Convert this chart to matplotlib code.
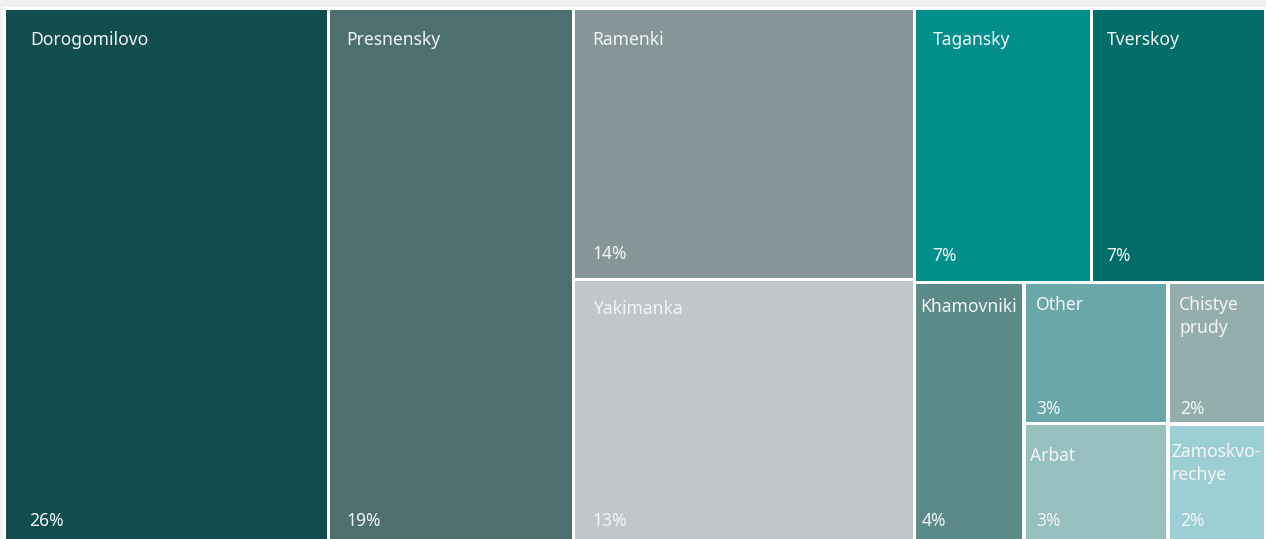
import matplotlib
matplotlib.use("Agg")
import matplotlib.pyplot as plt
from matplotlib.patches import Rectangle

# Districts, share of total.
names = ["Dorogomilovo", "Presnensky", "Ramenki", "Yakimanka", "Tagansky",
         "Tverskoy", "Khamovniki", "Other", "Chistye\nprudy", "Arbat",
         "Zamoskvo-\nrechye"]
values = [25.6, 19.35, 13.7, 13.2, 7.2, 7.1, 4.2, 3.0, 2.05, 2.5, 1.7]

colors = ["#124d4e", "#4e6f6f", "#869597", "#c2c6c8", "#028f8c", "#026d69",
          "#5b8a89", "#6aa7a8", "#94aead", "#97bfbf", "#9ccfd3"]

# How the tiles nest: 'h' = side by side, 'v' = stacked.
layout = ("h", [0, 1, ("v", [2, 3]),
                ("v", [("h", [4, 5]),
                       ("h", [6, ("v", [7, 9]), ("v", [8, 10])])])])

# Label padding inside each tile, in pixels.
name_dx = [24, 16, 17, 17.5, 16.5, 13.5, 4, 10, 9.5, 4.5, 2]
name_dy = [35.5, 35.5, 35.5, 33, 35.5, 35.5, 28, 25.5, 25.5, 36, 31.5]
pct_dx = [23.5, 16.5, 17.5, 17.5, 16.5, 13.5, 5, 10, 10, 10, 10]
pct_dy = [13, 13, 19, 13, 20, 20, 13, 8, 8, 13, 13]

W, H = 1266, 539
gap = 1.75
line_h = 23
text_color = "#f2f5f5"
font_size = 12.6

plt.rcParams["font.family"] = ["Noto Sans", "DejaVu Sans"]

def node_value(node):
    if isinstance(node, int):
        return values[node]
    return sum(node_value(k) for k in node[1])

rects = {}

def split(node, x0, y0, x1, y1):
    if isinstance(node, int):
        rects[node] = (x0, y0, x1, y1)
        return
    direction, kids = node
    total = node_value(node)
    pos = x0 if direction == "h" else y0
    for k in kids:
        frac = node_value(k) / total
        if direction == "h":
            step = frac * (x1 - x0)
            split(k, pos, y0, pos + step, y1)
        else:
            step = frac * (y1 - y0)
            split(k, x0, pos, x1, pos + step)
        pos += step

fig = plt.figure(figsize=(W / 100, H / 100), dpi=100, facecolor="white")

# light page band along the top and left edge
fig.add_artist(Rectangle((0, 1 - 7 / H), 1, 7 / H, transform=fig.transFigure,
                         facecolor="#eff2f0", edgecolor="none"))
fig.add_artist(Rectangle((0, 0), 3 / W, 1, transform=fig.transFigure,
                         facecolor="#eff2f0", edgecolor="none"))

ax_w, ax_h = 1262, 533
ax = fig.add_axes([4 / W, -2 / H, ax_w / W, ax_h / H])
ax.set_xlim(0, ax_w)
ax.set_ylim(ax_h, 0)
ax.axis("off")

split(layout, 0, 0, ax_w, ax_h)

total = sum(values)
for i in range(len(names)):
    x0, y0, x1, y1 = rects[i]
    x0, y0, x1, y1 = x0 + gap, y0 + gap, x1 - gap, y1 - gap
    ax.add_patch(Rectangle((x0, y0), x1 - x0, y1 - y0,
                           facecolor=colors[i], edgecolor="none"))
    for j, line in enumerate(names[i].split("\n")):
        ax.text(x0 + name_dx[i], y0 + name_dy[i] + j * line_h, line,
                color=text_color, fontsize=font_size, va="baseline", ha="left")
    pct = values[i] / total * 100
    ax.text(x0 + pct_dx[i], y1 - pct_dy[i], f"{pct:.0f}%",
            color=text_color, fontsize=font_size, va="baseline", ha="left")

fig.savefig("out.png", dpi=100, facecolor=fig.get_facecolor())
